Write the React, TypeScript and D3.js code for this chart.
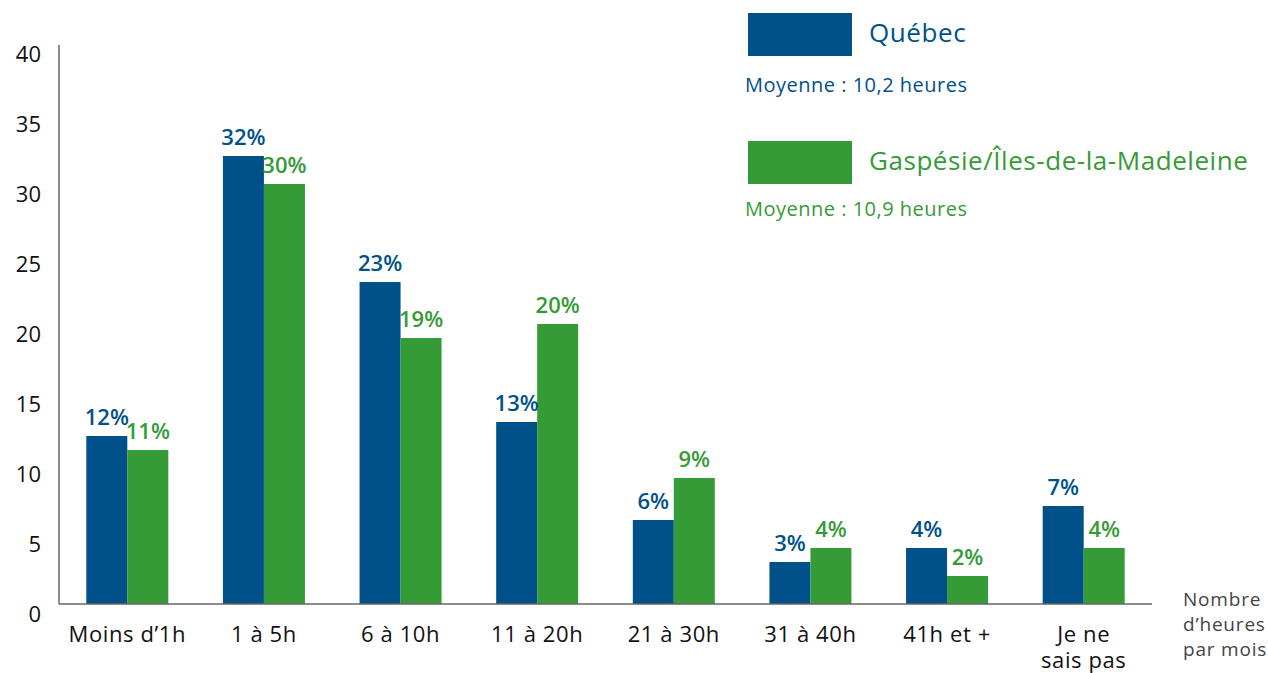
import React from 'react'
import { scaleBand, scaleLinear } from 'd3'

const categories = ['Moins d’1h', '1 à 5h', '6 à 10h', '11 à 20h', '21 à 30h', '31 à 40h', '41h et +', 'Je ne|sais pas']
const quebec = [12, 32, 23, 13, 6, 3, 4, 7]
const gaspesie = [11, 30, 19, 20, 9, 4, 2, 4]
const yTicks = [0, 5, 10, 15, 20, 25, 30, 35, 40]

const BLUE = '#005189'
const GREEN = '#359b37'
const FONT = '"Open Sans", Lato, sans-serif'

function App() {
  const x0 = 59, x1 = 1152
  const yBase = 604
  const x = scaleBand().domain(categories).range([x0, x1])
  const y = scaleLinear().domain([0, 40]).range([yBase, yBase - 560])
  const bw = 41

  return (
    <svg width={1268} height={673} style={{ position: 'absolute', left: 0, top: 0 }} viewBox="0 0 1268 673">
      <g fontFamily={FONT}>
        {yTicks.map(t => (
          <text key={t} x={41} y={y(t) + 10} dy="0.35em" textAnchor="end" fontSize={22} fill="#111">{t}</text>
        ))}
        {categories.map((c, i) => {
          const cx = (x(c) as number) + x.bandwidth() / 2
          return (
            <g key={c}>
              <rect x={cx - bw} y={y(quebec[i])} width={bw} height={yBase - y(quebec[i])} fill={BLUE} />
              <rect x={cx} y={y(gaspesie[i])} width={bw} height={yBase - y(gaspesie[i])} fill={GREEN} />
              <text x={cx - bw / 2} y={y(quebec[i]) - 11} textAnchor="middle" fontSize={22} fontWeight={600} fill={BLUE}>{quebec[i]}%</text>
              <text x={cx + bw / 2} y={y(gaspesie[i]) - 11} textAnchor="middle" fontSize={22} fontWeight={600} fill={GREEN}>{gaspesie[i]}%</text>
              {c.split('|').map((l, j) => (
                <text key={j} x={cx} y={642 + j * 26} textAnchor="middle" fontSize={22} letterSpacing={0.6} fill="#111">{l}</text>
              ))}
            </g>
          )
        })}
        <line x1={x0} x2={x0} y1={45} y2={yBase} stroke="#666" strokeWidth={1.5} />
        <line x1={x0} x2={x1} y1={yBase} y2={yBase} stroke="#666" strokeWidth={1.5} />
        {['Nombre', 'd’heures', 'par mois'].map((l, j) => (
          <text key={l} x={1183} y={606 + j * 25} fontSize={19} letterSpacing={0.8} fill="#444">{l}</text>
        ))}
        <rect x={748} y={13} width={104} height={43} fill={BLUE} />
        <text x={869} y={42} fontSize={26} letterSpacing={0.6} fill={BLUE}>Québec</text>
        <text x={745} y={92} fontSize={20} letterSpacing={0.5} fill={BLUE}>Moyenne : 10,2 heures</text>
        <rect x={748} y={141} width={104} height={43} fill={GREEN} />
        <text x={869} y={170} fontSize={26} letterSpacing={0.55} fill={GREEN}>Gaspésie/Îles-de-la-Madeleine</text>
        <text x={745} y={216} fontSize={20} letterSpacing={0.5} fill={GREEN}>Moyenne : 10,9 heures</text>
      </g>
    </svg>
  )
}

export default App
